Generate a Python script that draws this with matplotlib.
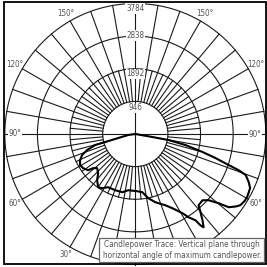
import numpy as np
import matplotlib.pyplot as plt
from matplotlib.patches import Rectangle

plt.rcParams['font.family'] = ['DejaVu Sans Condensed', 'Liberation Sans Narrow', 'DejaVu Sans']
plt.rcParams['font.stretch'] = 'condensed'

# rings of the polar grid (candela) and their labels
rings = [946, 1892, 2838, 3784]
ring_labels = ["946", "1892", "2838", "3784"]
ring_label_r = [754, 1740, 2856, 3640]
# angle labels (deg from nadir, - left / + right); right 30° sits under the note box
angle_labels = [-30, -60, -90, -120, -150, 60, 90, 120, 150]

# candlepower trace: vertical angle from nadir (deg, + to the right) and candela
trace_deg = [-82, -82, -74.6, -71.6, -68.4, -64.7, -60.6, -56.8, -52.5, -51.0, -48.2,
             -43.5, -39.6, -34.9, -31.4, -27.0, -19.7, -12.6, -7.1, 2.0, 6.9, 9.3,
             11.5, 16.4, 22.9, 26.6, 30.8, 32.6, 34.9, 35.5, 36.2, 37.9, 39.8, 41.6,
             45.4, 47.9, 50.3, 51.9, 54.3, 55.9, 58.7, 60.9, 64.8, 67.0, 69.6, 70.7,
             71.6, 73.3, 75.0, 77.6, 79.7, 80.0, 80.0]
trace_cd = [0, 206, 1208, 1473, 1659, 1771, 1838, 1809, 1723, 1573, 1484,
            1565, 1737, 1881, 1842, 1732, 1731, 1730, 1643, 1660, 1700, 1799,
            1901, 2063, 2244, 2408, 2675, 2866, 3052, 3255, 3353, 3173, 2955, 2763,
            2737, 2864, 3142, 3441, 3600, 3680, 3720, 3720, 3680, 3573, 3417, 3176,
            2853, 2431, 2019, 1490, 976, 503, 0]

legend_text = "Candlepower Trace: Vertical plane through\nhorizontal angle of maximum candlepower."

W = 267
fig = plt.figure(figsize=(W / 100, W / 100), dpi=100)

cx, cy, rad = 135.3, 134.0, 130.5
ax = fig.add_axes([(cx - rad) / W, (W - cy - rad) / W, 2 * rad / W, 2 * rad / W],
                  projection='polar')
ax.set_theta_zero_location('S')
ax.set_theta_direction(1)
ax.set_rlim(0, rings[-1])
ax.grid(False)
ax.set_xticks([])
ax.set_yticks([])
ax.spines['polar'].set_visible(False)

gc = '#1a1a1a'
full = np.linspace(0, 2 * np.pi, 400)
for r in rings:
    ax.plot(full, np.full_like(full, r), color=gc, lw=0.8, clip_on=False)

for a in range(0, 360, 5):
    t = np.deg2rad(a)
    if a % 90 == 0:
        r0, r1 = 0, rings[-1]
    elif a % 10 == 0:
        r0, r1 = rings[0], rings[-1]
    else:
        r0, r1 = rings[0], rings[1]
    ax.plot([t, t], [r0, r1], color=gc, lw=0.8, clip_on=False)

for lab, r in zip(ring_labels, ring_label_r):
    ax.text(np.pi, r, lab, ha='center', va='center', fontsize=5.8, color='#555555',
            bbox=dict(facecolor='white', edgecolor='none', pad=0.5))

for a in angle_labels:
    rr = 3480 if abs(a) == 90 else 4040
    ax.text(np.deg2rad(a), rr, f"{abs(a)}°", ha='center', va='center',
            fontsize=5.8, color='#555555', clip_on=False,
            bbox=dict(facecolor='white', edgecolor='none', pad=0.4) if abs(a) == 90 else None)

ax.plot(np.deg2rad(trace_deg), trace_cd, color='black', lw=1.5, clip_on=False)

ov = fig.add_axes([0, 0, 1, 1])
ov.set_xlim(0, W)
ov.set_ylim(W, 0)
ov.axis('off')
ov.add_patch(Rectangle((4, 1.5), 261.5, 262.5, fill=False, edgecolor='black', lw=1.3))
ov.add_patch(Rectangle((99, 238), 165, 24, facecolor='white', edgecolor='#666666', lw=0.9))
ov.text(182, 250, legend_text, ha='center', va='center', fontsize=5.85,
        color='#555555', linespacing=1.3)

fig.savefig('out.png', dpi=100)
